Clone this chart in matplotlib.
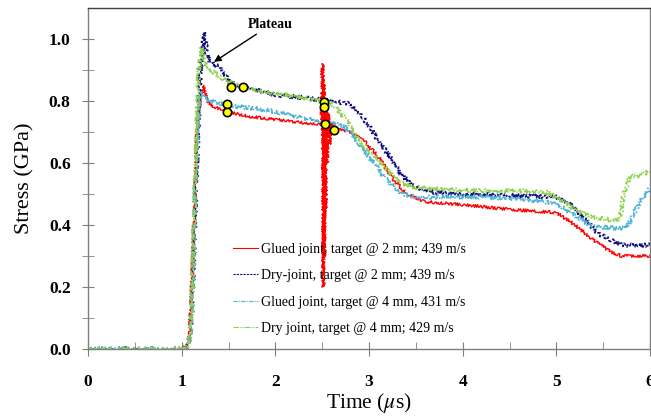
import numpy as np
import matplotlib.pyplot as plt

plt.rcParams['font.family'] = ['Liberation Serif', 'DejaVu Serif']
plt.rcParams['mathtext.fontset'] = 'stix'

# Glued joint, target @ 2 mm
t_red = [0, 1.0, 1.08, 1.12, 1.16, 1.2, 1.23, 1.27, 1.35, 1.5, 1.7, 2.0, 2.3, 2.49,
         2.505, 2.512, 2.518, 2.524, 2.53, 2.537, 2.545, 2.555, 2.565, 2.58, 2.6,
         2.63, 2.8, 2.95, 3.1, 3.25, 3.4, 3.6, 4.0, 4.5, 5.0, 5.2, 5.4, 5.6, 5.7, 6.0]
s_red = [0, 0, 0.02, 0.3, 0.7, 0.82, 0.85, 0.8, 0.78, 0.765, 0.75, 0.74, 0.73, 0.725,
         0.92, 0.2, 0.86, 0.3, 0.8, 0.45, 0.78, 0.6, 0.76, 0.66, 0.73,
         0.71, 0.7, 0.67, 0.62, 0.55, 0.5, 0.475, 0.465, 0.45, 0.44, 0.4, 0.35, 0.31, 0.3, 0.3]

# Dry-joint, target @ 2 mm
t_blue = [0, 1.05, 1.1, 1.15, 1.2, 1.24, 1.27, 1.3, 1.4, 1.5, 1.6, 1.8, 2.0, 2.3, 2.6, 2.8,
          2.9, 3.0, 3.1, 3.2, 3.35, 3.5, 3.7, 4.0, 4.5, 5.0, 5.15, 5.3, 5.45, 5.6, 5.7, 6.0]
s_blue = [0, 0, 0.05, 0.5, 0.9, 1.02, 0.95, 0.925, 0.91, 0.87, 0.85, 0.835, 0.82, 0.81, 0.8, 0.79,
          0.76, 0.72, 0.67, 0.63, 0.56, 0.52, 0.505, 0.5, 0.495, 0.49, 0.47, 0.42, 0.37, 0.35, 0.335, 0.335]

# Glued joint, target @ 4 mm
t_cyan = [0, 1.05, 1.1, 1.14, 1.18, 1.21, 1.25, 1.3, 1.5, 1.8, 2.0, 2.3, 2.5, 2.7, 2.8, 2.9,
          3.0, 3.1, 3.2, 3.35, 3.5, 3.8, 4.2, 4.6, 5.0, 5.15, 5.3, 5.4, 5.6, 5.75, 5.8, 5.9, 6.0]
s_cyan = [0, 0, 0.05, 0.5, 0.78, 0.83, 0.81, 0.8, 0.785, 0.775, 0.765, 0.745, 0.735, 0.725, 0.7, 0.66,
          0.62, 0.58, 0.54, 0.5, 0.49, 0.49, 0.49, 0.485, 0.47, 0.44, 0.41, 0.395, 0.39, 0.39, 0.42, 0.48, 0.52]

# Dry joint, target @ 4 mm
t_green = [0, 1.05, 1.1, 1.14, 1.18, 1.21, 1.25, 1.3, 1.4, 1.5, 1.65, 1.8, 2.0, 2.3, 2.5, 2.6,
           2.7, 2.8, 2.9, 3.0, 3.1, 3.2, 3.35, 3.5, 3.8, 4.2, 4.6, 4.9, 5.05, 5.2, 5.4, 5.6,
           5.68, 5.72, 5.78, 5.9, 6.0]
s_green = [0, 0, 0.05, 0.5, 0.9, 0.97, 0.92, 0.9, 0.88, 0.86, 0.845, 0.835, 0.825, 0.81, 0.8, 0.79,
           0.76, 0.72, 0.67, 0.64, 0.61, 0.575, 0.535, 0.52, 0.515, 0.51, 0.51, 0.505, 0.48, 0.45, 0.425, 0.415,
           0.42, 0.5, 0.555, 0.56, 0.575]

# yellow markers
t_mark = [1.523, 1.652, 1.487, 1.487, 2.516, 2.516, 2.53, 2.629]
s_mark = [0.846, 0.846, 0.79, 0.765, 0.796, 0.781, 0.725, 0.707]

labels = ['Glued joint, target @ 2 mm; 439 m/s',
          'Dry-joint, target @ 2 mm; 439 m/s',
          'Glued joint, target @ 4 mm, 431 m/s',
          'Dry joint, target @ 4 mm; 429 m/s']

fig = plt.figure(figsize=(6.51, 4.16), dpi=100)
ax = fig.add_axes([0.1352, 0.161, 0.8633, 0.820])

l1, = ax.plot(t_red, s_red, color='#ff0000', lw=1.0, ls='-', label=labels[0])
l2, = ax.plot(t_blue, s_blue, color='#10107e', lw=1.2, ls=(0, (2, 1)), label=labels[1])
l3, = ax.plot(t_cyan, s_cyan, color='#4fb3d6', lw=1.2, ls=(0, (4, 1, 1, 1)), label=labels[2])
l4, = ax.plot(t_green, s_green, color='#8fd14f', lw=1.2, ls=(0, (5, 1, 1, 1, 1, 1)), label=labels[3])
for ln in (l1, l2, l3, l4):
    ln.set_sketch_params(scale=2.0, length=1.5, randomness=3)
l1.set_sketch_params(scale=1.5, length=1.5, randomness=3)

ax.plot(t_mark, s_mark, 'o', ms=6, mfc='#ffff00', mec='black', mew=1.2, zorder=5)

ax.annotate('Plateau', xy=(1.345, 0.926), xytext=(1.71, 1.045),
            fontsize=10, fontweight='bold', va='center', ha='left',
            arrowprops=dict(arrowstyle='-|>', color='black', lw=1.0,
                            shrinkA=0, shrinkB=0, mutation_scale=10))

leg = ax.legend(loc='center left', bbox_to_anchor=(0.258, 0.176), frameon=False,
                fontsize=10, handlelength=1.8, handletextpad=0.2, labelspacing=0.97,
                borderpad=0, borderaxespad=0)
for h in leg.get_lines():
    h.set_sketch_params(None)
    h.set_linewidth(0.8)

ax.set_xlim(0, 6)
ax.set_ylim(0, 1.1)
ax.set_xticks(np.arange(0, 7, 1))
ax.set_xticks(np.arange(0, 6.01, 0.5), minor=True)
ax.set_yticks([0.0, 0.2, 0.4, 0.6, 0.8, 1.0])
ax.set_yticks(np.arange(0, 1.01, 0.1), minor=True)
ax.set_yticklabels(['0.0', '0.2', '0.4', '0.6', '0.8', '1.0'])

for sp in ax.spines.values():
    sp.set_color('#7f7f7f')
    sp.set_linewidth(1.0)
ax.spines['top'].set_color('#404040')

ax.tick_params(axis='x', which='major', direction='inout', length=10, color='#7f7f7f',
               pad=13, labelsize=12.5)
ax.tick_params(axis='x', which='minor', direction='in', length=5, color='#7f7f7f')
ax.tick_params(axis='y', which='both', direction='inout', length=9, color='#7f7f7f',
               pad=8, labelsize=12.5)
for lab in ax.get_xticklabels() + ax.get_yticklabels():
    lab.set_fontweight('bold')

ax.set_xlabel(r'Time ($\mu$s)', fontsize=15.5, labelpad=1)
ax.set_ylabel('Stress (GPa)', fontsize=16, labelpad=10)

fig.savefig('out.png', dpi=100)
